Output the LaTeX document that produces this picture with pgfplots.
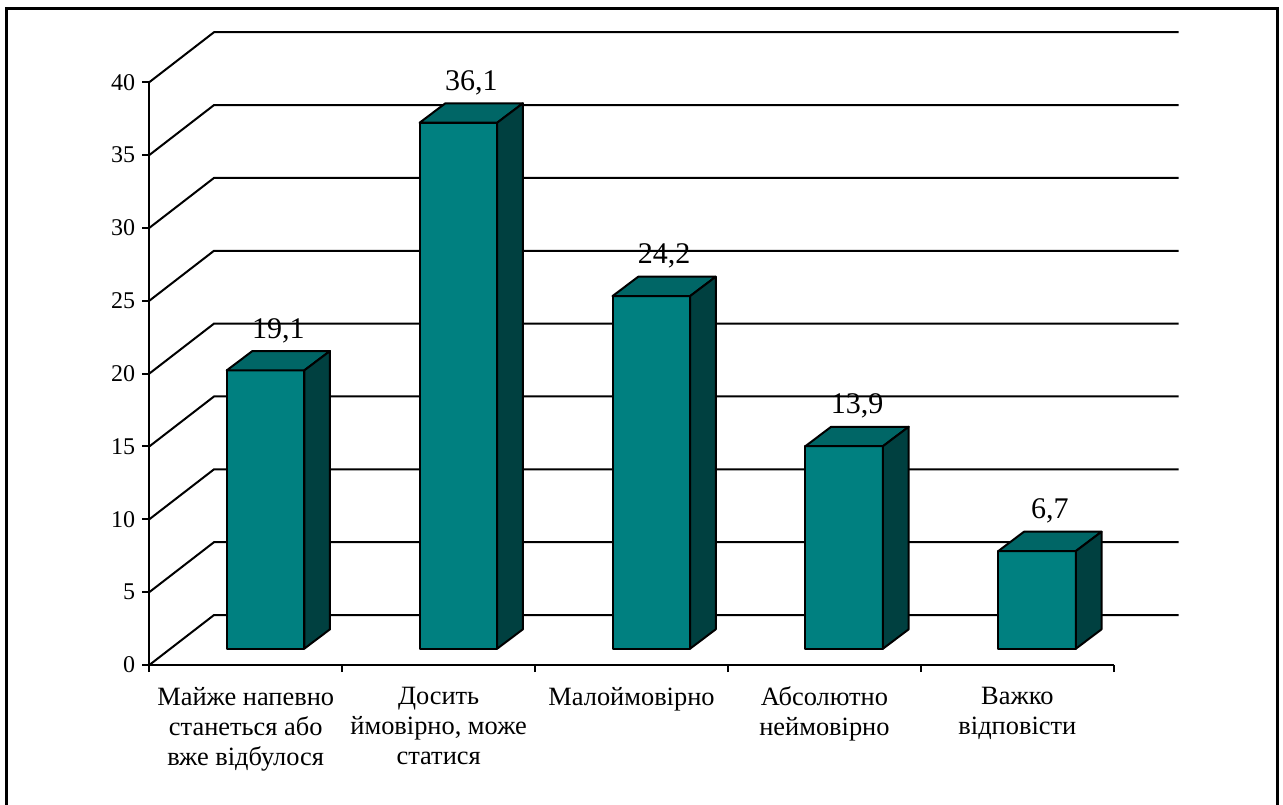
\documentclass[border=0pt]{standalone}
\usepackage{pgfplots}
\pgfplotsset{compat=1.18}
\usepackage{pgfplotstable}
\usepackage{fontspec}
\setmainfont{Liberation Serif}

\definecolor{barfront}{RGB}{0,128,128}
\definecolor{bartop}{RGB}{0,102,102}
\definecolor{barside}{RGB}{0,64,64}

% share of answers, per category
\pgfplotstableread{
idx val
0 19.1
1 36.1
2 24.2
3 13.9
4 6.7
}\shares

% depth of the back wall, in axis units
\newcommand\wallx{0.3354}
\newcommand\wally{3.43}

% one 3D bar: #1 = category index, #2 = value
\newcommand\drawbar[2]{%
  \filldraw[barfront, draw=black, line width=1pt, line join=round]
    (axis cs:{#1+0.4014},1.12) rectangle (axis cs:{#1+0.8034},{#2+1.12});
  \filldraw[bartop, draw=black, line width=1pt, line join=round]
    (axis cs:{#1+0.4014},{#2+1.12}) -- (axis cs:{#1+0.8034},{#2+1.12})
    -- (axis cs:{#1+0.9366},{#2+2.45}) -- (axis cs:{#1+0.5346},{#2+2.45}) -- cycle;
  \filldraw[barside, draw=black, line width=1pt, line join=round]
    (axis cs:{#1+0.8034},1.12) -- (axis cs:{#1+0.9366},2.45)
    -- (axis cs:{#1+0.9366},{#2+2.45}) -- (axis cs:{#1+0.8034},{#2+1.12}) -- cycle;
  \node[anchor=base, yshift=6.5pt, font=\fontsize{15}{18}\selectfont]
    at (axis cs:{#1+0.669},{#2+2.45})
    {\pgfmathprintnumber[use comma,fixed,fixed zerofill,precision=1,assume math mode=true]{#2}};
}

\begin{document}
\begin{tikzpicture}
\useasboundingbox (-74.65pt,-69.5pt) rectangle (566.85pt,332.5pt);
% frame
\draw[line width=1.5pt] (-71.15pt,-80pt) -- (-71.15pt,328pt) -- (563.85pt,328pt) -- (563.85pt,-80pt);
\begin{axis}[
  at={(0,0)}, anchor=south west,
  x=96.45pt, y=7.285pt,
  xmin=0, xmax=5, ymin=0, ymax=40,
  enlargelimits=false,
  clip=false,
  axis x line=bottom, axis y line=left,
  axis line style={-, line width=1pt},
  tick align=outside,
  major tick length=3.5pt,
  tick style={black, line width=1pt},
  ytick={0,5,...,40},
  minor tick num=0,
  xtick={0,...,5},
  x tick label as interval,
  xticklabels={{Майже напевно\\станеться або\\вже відбулося},
               {Досить\\ймовірно, може\\статися},
               {Малоймовірно},
               {Абсолютно\\неймовірно},
               {Важко\\відповісти}},
  xticklabel style={font=\fontsize{13.2}{15}\selectfont, align=center, anchor=north, yshift=-4pt},
  yticklabel style={font=\fontsize{12}{14}\selectfont},
  /pgf/number format/assume math mode=true,
]
% side and back walls
\pgfplotsinvokeforeach{0,5,...,40}{%
  \draw[line width=1pt] (axis cs:0,#1) -- (axis cs:\wallx,{#1+\wally})
    -- (axis cs:{5+\wallx},{#1+\wally});
}
% bars
\pgfplotsinvokeforeach{0,...,4}{%
  \pgfplotstablegetelem{#1}{val}\of\shares
  \edef\next{\noexpand\drawbar{#1}{\pgfplotsretval}}\next
}
\end{axis}
\end{tikzpicture}
\end{document}
